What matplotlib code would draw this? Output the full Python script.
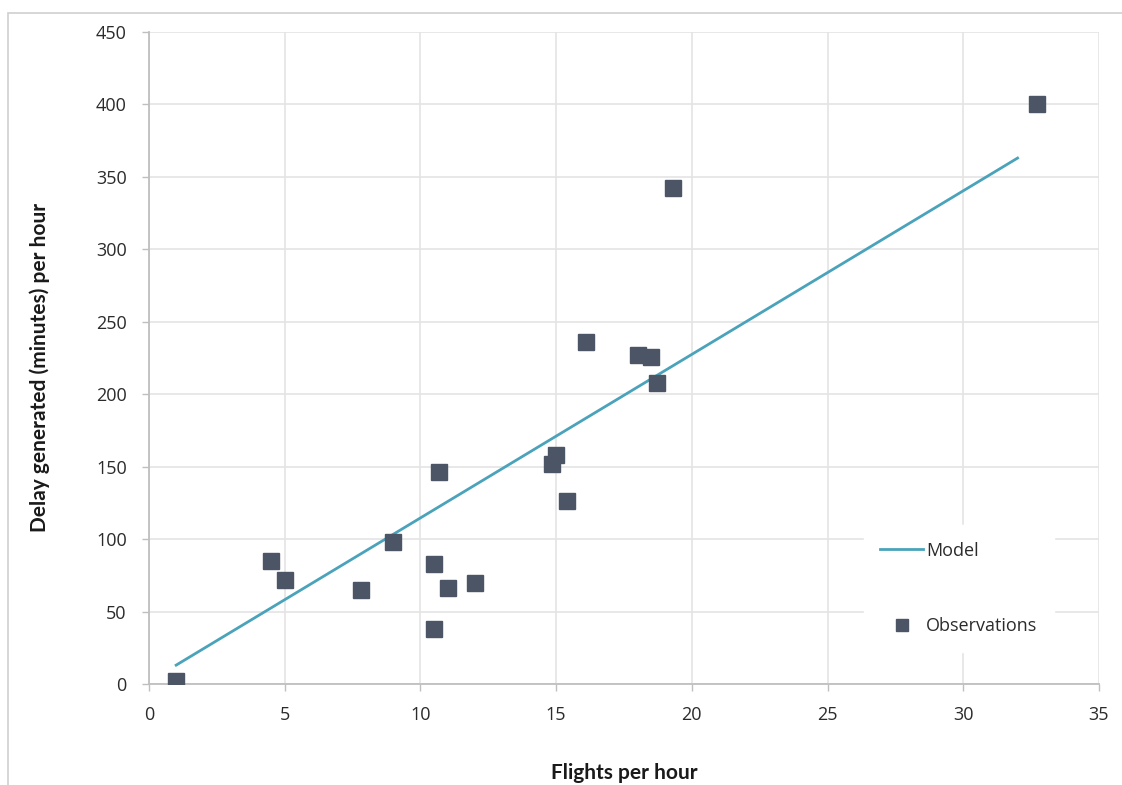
import matplotlib.pyplot as plt
from matplotlib.patches import Rectangle

# observed flights per hour vs delay generated per hour
obs_x = [1.0, 4.5, 5.0, 7.8, 9.0, 10.5, 10.5, 10.7, 11.0, 12.0,
         14.85, 15.0, 15.4, 16.1, 18.0, 18.5, 18.7, 19.3, 32.7]
obs_y = [2, 85, 72, 65, 98, 83, 38, 146, 66, 70,
         152, 158, 126, 236, 227, 226, 208, 342, 400]

# fitted model line
model_x = [1.0, 32.0]
model_y = [13, 363]

x_ticks = [0, 5, 10, 15, 20, 25, 30, 35]
y_ticks = [0, 50, 100, 150, 200, 250, 300, 350, 400, 450]

line_color = "#4aa3ba"
marker_color = "#4b5566"
grid_color = "#e4e4e4"
axis_color = "#bfbfbf"

fig = plt.figure(figsize=(11.22, 7.85), dpi=100)
ax = fig.add_axes([0.1328, 0.1287, 0.8467, 0.8305])

# outer chart-area border
fig.patches.append(Rectangle((8 / 1122, -0.1), 1.2, (785 - 13) / 785 + 0.1,
                             transform=fig.transFigure, fill=False,
                             edgecolor="#d0d0d0", linewidth=1.2))

ax.plot(model_x, model_y, color=line_color, linewidth=2.0, label="Model", zorder=3)
ax.plot(obs_x, obs_y, linestyle="none", marker="s", markersize=11,
        color=marker_color, label="Observations", zorder=4)

ax.set_xlim(0, 35)
ax.set_ylim(0, 450)
ax.set_xticks(x_ticks)
ax.set_yticks(y_ticks)
ax.grid(True, color=grid_color, linewidth=1.2, zorder=0)
ax.set_axisbelow(True)

for s in ["top", "right"]:
    ax.spines[s].set_visible(False)
for s in ["left", "bottom"]:
    ax.spines[s].set_color(axis_color)
    ax.spines[s].set_linewidth(1.3)

ax.tick_params(axis="both", colors=axis_color, length=5, width=1.0,
               labelcolor="#2b2b2b", labelsize=13, pad=11)
for lab in ax.get_xticklabels() + ax.get_yticklabels():
    lab.set_fontfamily("Open Sans")

ax.set_xlabel("Flights per hour", fontfamily="Lato", fontweight="bold",
              fontsize=15, color="#1a1a1a", labelpad=28)
ax.set_ylabel("Delay generated (minutes) per hour", fontfamily="Lato",
              fontweight="bold", fontsize=15, color="#1a1a1a")
ax.yaxis.set_label_coords(-0.104, 0.485)

leg = ax.legend(loc="upper left", bbox_to_anchor=(0.743, 0.257),
                frameon=True, framealpha=1.0, edgecolor="white",
                facecolor="white", fancybox=False,
                prop={"family": "Open Sans", "size": 13},
                labelspacing=3.2, handlelength=2.4, handletextpad=0.15,
                borderpad=0.9, markerscale=0.8)
for t in leg.get_texts():
    t.set_color("#2b2b2b")

fig.savefig("out.png", dpi=100, facecolor="white")
